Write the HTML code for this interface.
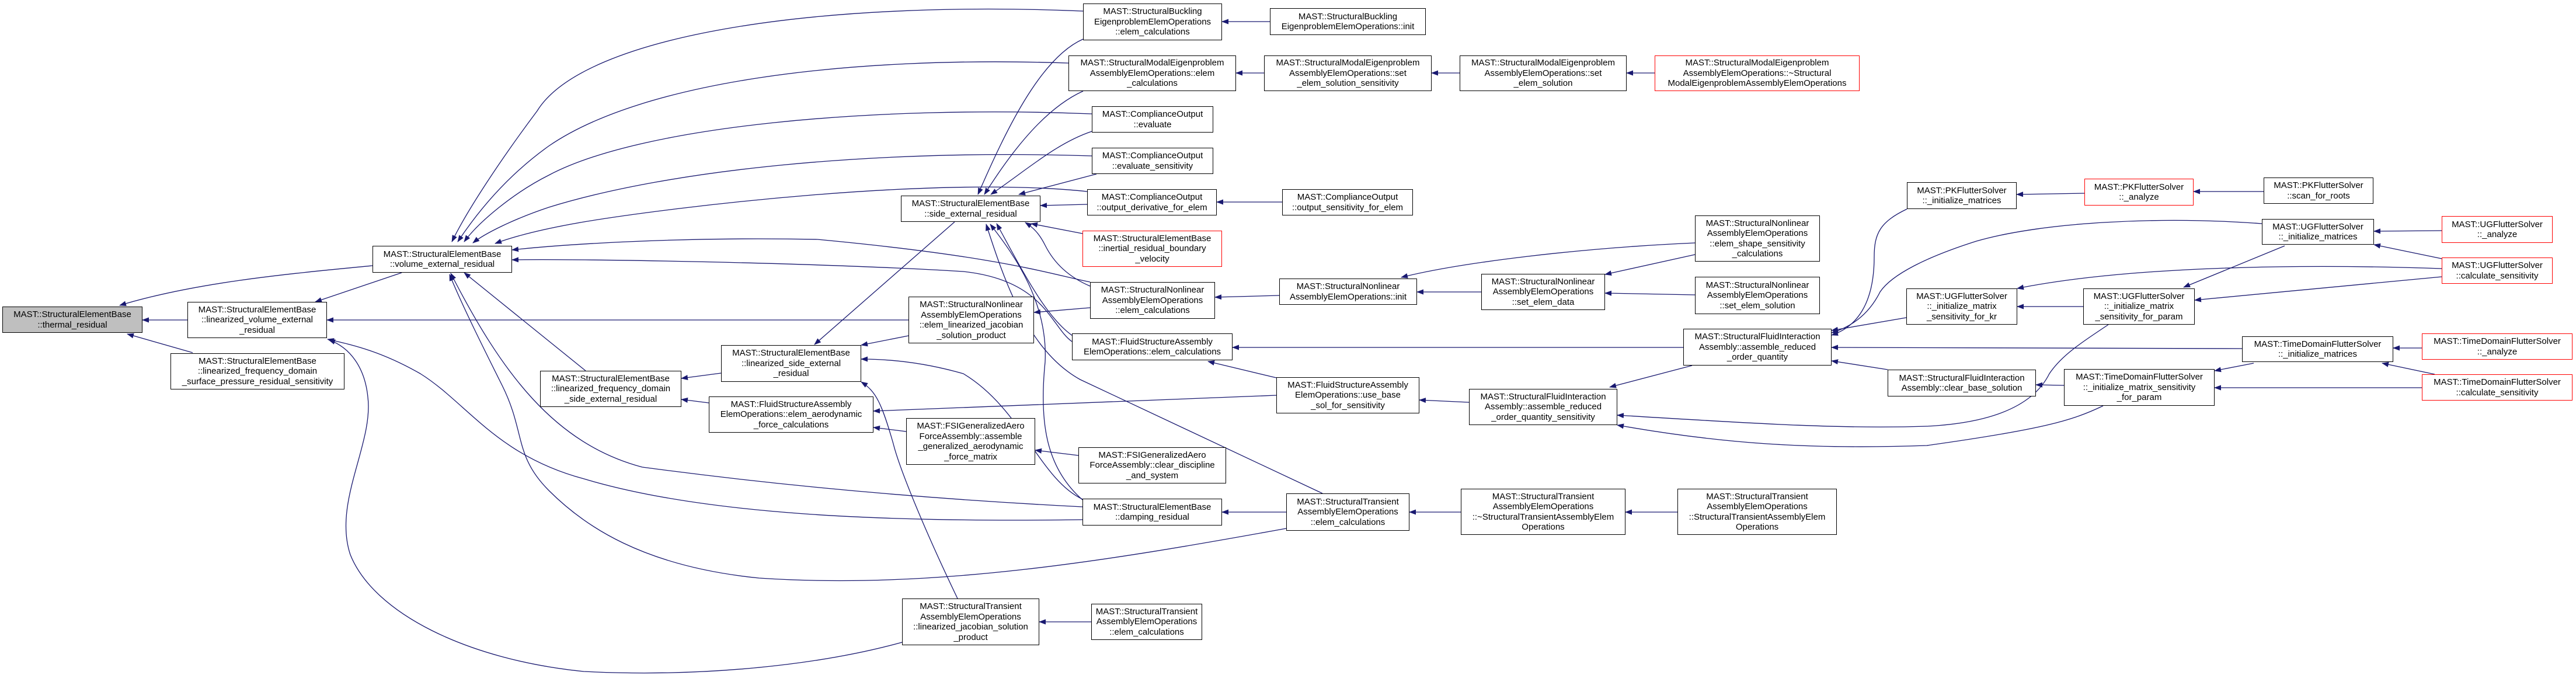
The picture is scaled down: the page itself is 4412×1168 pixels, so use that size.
<!DOCTYPE html>
<html><head><meta charset="utf-8">
<style>
html,body{margin:0;padding:0;background:#fff;}
body{width:4412px;height:1168px;position:relative;overflow:hidden;font-family:"Liberation Sans",Arial,sans-serif;}
.n{position:absolute;box-sizing:border-box;border:1.4px solid #000;background:#fff;display:flex;align-items:center;justify-content:center;text-align:center;font-size:15px;line-height:17.5px;color:#000;white-space:nowrap;}
.r{border-color:#ff0000;}
.g{background:#bfbfbf;}
svg{position:absolute;left:0;top:0;}
</style></head><body>
<svg width="4412" height="1168" viewBox="0 0 4412 1168">
<defs><marker id="a" markerWidth="12" markerHeight="10" refX="11" refY="4.5" orient="auto" markerUnits="userSpaceOnUse"><path d="M0,0 L12,4.5 L0,9 z" fill="#191970"/></marker></defs>
<g fill="none" stroke="#191970" stroke-width="1.3" marker-end="url(#a)">
<path d="M638,455 C480,470 330,485 205,523"/>
<path d="M321,548 L244,548"/>
<path d="M330,604 L218,572"/>
<path d="M688,467 L540,517"/>
<path d="M1855,19 C1400,0 1000,60 920,190 C860,270 800,360 774,414"/>
<path d="M1830,108 C1450,95 1100,140 940,250 C870,300 820,360 784,414"/>
<path d="M1870,195 C1500,180 1100,215 940,300 C880,330 820,380 795,414"/>
<path d="M1870,267 C1500,255 1150,290 940,355 C880,375 830,400 810,416"/>
<path d="M1862,328 C1600,300 1150,355 1000,380 C930,392 880,405 848,417"/>
<path d="M1867,483 C1800,470 1720,440 1400,410 C1150,405 950,420 877,428"/>
<path d="M1836,585 C1800,560 1790,480 1650,465 C1400,450 1000,443 877,445"/>
<path d="M1003,635 L795,467"/>
<path d="M1854,868 C1500,850 1250,820 1100,800 C950,760 860,640 772,468"/>
<path d="M2203,905 C1900,960 1600,1010 1300,990 C1100,970 1000,900 940,840 C880,780 900,740 860,660 C830,600 790,520 770,470"/>
<path d="M1854,890 C1500,895 1200,880 1000,820 C850,780 800,690 720,640 C650,600 600,590 561,581"/>
<path d="M1545,1100 C1400,1140 1200,1160 1000,1150 C800,1130 640,1050 600,950 C570,860 640,760 630,680 C625,630 600,595 563,582"/>
<path d="M1556,548 L560,548"/>
<path d="M1855,67 C1780,100 1720,230 1675,333"/>
<path d="M1855,156 C1780,190 1720,280 1686,333"/>
<path d="M1870,225 C1810,245 1760,290 1697,333"/>
<path d="M1878,298 L1745,333"/>
<path d="M1862,350 L1782,352"/>
<path d="M1854,400 L1766,383"/>
<path d="M1867,490 C1820,470 1800,440 1790,420 C1780,400 1770,390 1756,381"/>
<path d="M1854,585 C1800,560 1760,480 1707,383"/>
<path d="M1854,856 C1790,800 1780,720 1790,620 C1795,520 1740,440 1696,384"/>
<path d="M2265,845 C2150,790 2000,720 1850,650 C1760,600 1720,480 1689,384"/>
<path d="M1635,380 L1395,590"/>
<path d="M1556,575 L1475,591"/>
<path d="M1854,855 C1780,820 1750,700 1650,640 C1580,620 1520,615 1475,615"/>
<path d="M1640,1025 C1580,900 1540,800 1530,760 C1510,690 1500,670 1475,654"/>
<path d="M1235,639 L1167,648"/>
<path d="M1214,690 L1167,684"/>
<path d="M1867,527 L1771,535"/>
<path d="M1552,739 L1496,732"/>
<path d="M2186,677 L1496,704"/>
<path d="M1847,780 L1773,771"/>
<path d="M2175,37 L2093,37"/>
<path d="M2165,125 L2117,125"/>
<path d="M2196,346 L2084,346"/>
<path d="M2191,506 L2081,509"/>
<path d="M2883,595 L2111,595"/>
<path d="M2186,647 L2069,619"/>
<path d="M2203,877 L2093,877"/>
<path d="M1869,1065 L1780,1065"/>
<path d="M2500,125 L2452,125"/>
<path d="M2834,125 L2786,125"/>
<path d="M2903,416 C2700,425 2500,450 2400,475"/>
<path d="M2537,500 L2427,500"/>
<path d="M2903,436 L2749,470"/>
<path d="M2903,505 L2749,502"/>
<path d="M2516,689 L2431,685"/>
<path d="M2898,626 L2757,663"/>
<path d="M3611,556 C3560,590 3530,610 3510,640 C3480,700 3400,725 3300,730 C3150,735 3000,725 2770,711"/>
<path d="M3602,695 C3550,720 3500,735 3300,763 C3100,770 2950,760 2770,728"/>
<path d="M3266,358 C3220,380 3210,400 3210,440 C3210,520 3180,560 3137,574"/>
<path d="M3874,383 C3700,370 3500,380 3385,413 C3300,440 3240,470 3220,500 C3200,540 3170,560 3137,570"/>
<path d="M3265,544 L3137,566"/>
<path d="M3840,597 L3137,595"/>
<path d="M3233,633 L3137,618"/>
<path d="M2502,877 L2414,877"/>
<path d="M2873,877 L2784,877"/>
<path d="M3570,331 L3454,333"/>
<path d="M3877,328 L3757,328"/>
<path d="M4182,395 L4066,396"/>
<path d="M4182,443 L4066,419"/>
<path d="M4182,460 C3950,452 3650,455 3455,494"/>
<path d="M4182,474 L3759,514"/>
<path d="M3568,525 L3455,525"/>
<path d="M3913,421 L3740,492"/>
<path d="M4148,596 L4099,596"/>
<path d="M4170,641 L4080,622"/>
<path d="M3860,622 L3793,635"/>
<path d="M4148,664 L3793,664"/>
<path d="M3535,660 L3487,659"/>
</g></svg>

<div class="n g" style="left:4px;top:525px;width:240px;height:45px">MAST::StructuralElementBase<br>::thermal_residual</div>
<div class="n" style="left:638px;top:421px;width:239px;height:46px">MAST::StructuralElementBase<br>::volume_external_residual</div>
<div class="n" style="left:321px;top:517px;width:239px;height:62px">MAST::StructuralElementBase<br>::linearized_volume_external<br>_residual</div>
<div class="n" style="left:292px;top:605px;width:298px;height:62px">MAST::StructuralElementBase<br>::linearized_frequency_domain<br>_surface_pressure_residual_sensitivity</div>
<div class="n" style="left:925px;top:635px;width:242px;height:62px">MAST::StructuralElementBase<br>::linearized_frequency_domain<br>_side_external_residual</div>
<div class="n" style="left:1855px;top:6px;width:238px;height:63px">MAST::StructuralBuckling<br>EigenproblemElemOperations<br>::elem_calculations</div>
<div class="n" style="left:1830px;top:95px;width:287px;height:61px">MAST::StructuralModalEigenproblem<br>AssemblyElemOperations::elem<br>_calculations</div>
<div class="n" style="left:1870px;top:182px;width:208px;height:45px">MAST::ComplianceOutput<br>::evaluate</div>
<div class="n" style="left:1870px;top:253px;width:208px;height:45px">MAST::ComplianceOutput<br>::evaluate_sensitivity</div>
<div class="n" style="left:1862px;top:324px;width:222px;height:45px">MAST::ComplianceOutput<br>::output_derivative_for_elem</div>
<div class="n" style="left:1543px;top:335px;width:239px;height:45px">MAST::StructuralElementBase<br>::side_external_residual</div>
<div class="n r" style="left:1854px;top:395px;width:239px;height:62px">MAST::StructuralElementBase<br>::inertial_residual_boundary<br>_velocity</div>
<div class="n" style="left:1867px;top:483px;width:214px;height:63px">MAST::StructuralNonlinear<br>AssemblyElemOperations<br>::elem_calculations</div>
<div class="n" style="left:1556px;top:508px;width:215px;height:80px">MAST::StructuralNonlinear<br>AssemblyElemOperations<br>::elem_linearized_jacobian<br>_solution_product</div>
<div class="n" style="left:1836px;top:571px;width:275px;height:46px">MAST::FluidStructureAssembly<br>ElemOperations::elem_calculations</div>
<div class="n" style="left:1235px;top:591px;width:240px;height:63px">MAST::StructuralElementBase<br>::linearized_side_external<br>_residual</div>
<div class="n" style="left:1214px;top:679px;width:282px;height:62px">MAST::FluidStructureAssembly<br>ElemOperations::elem_aerodynamic<br>_force_calculations</div>
<div class="n" style="left:1552px;top:716px;width:221px;height:80px">MAST::FSIGeneralizedAero<br>ForceAssembly::assemble<br>_generalized_aerodynamic<br>_force_matrix</div>
<div class="n" style="left:1847px;top:766px;width:253px;height:62px">MAST::FSIGeneralizedAero<br>ForceAssembly::clear_discipline<br>_and_system</div>
<div class="n" style="left:1854px;top:854px;width:239px;height:46px">MAST::StructuralElementBase<br>::damping_residual</div>
<div class="n" style="left:1545px;top:1025px;width:235px;height:80px">MAST::StructuralTransient<br>AssemblyElemOperations<br>::linearized_jacobian_solution<br>_product</div>
<div class="n" style="left:1869px;top:1034px;width:190px;height:62px">MAST::StructuralTransient<br>AssemblyElemOperations<br>::elem_calculations</div>
<div class="n" style="left:2175px;top:14px;width:267px;height:46px">MAST::StructuralBuckling<br>EigenproblemElemOperations::init</div>
<div class="n" style="left:2165px;top:95px;width:287px;height:61px">MAST::StructuralModalEigenproblem<br>AssemblyElemOperations::set<br>_elem_solution_sensitivity</div>
<div class="n" style="left:2500px;top:95px;width:286px;height:61px">MAST::StructuralModalEigenproblem<br>AssemblyElemOperations::set<br>_elem_solution</div>
<div class="n r" style="left:2834px;top:95px;width:351px;height:61px">MAST::StructuralModalEigenproblem<br>AssemblyElemOperations::~Structural<br>ModalEigenproblemAssemblyElemOperations</div>
<div class="n" style="left:2196px;top:324px;width:224px;height:45px">MAST::ComplianceOutput<br>::output_sensitivity_for_elem</div>
<div class="n" style="left:2191px;top:477px;width:236px;height:45px">MAST::StructuralNonlinear<br>AssemblyElemOperations::init</div>
<div class="n" style="left:2537px;top:469px;width:212px;height:62px">MAST::StructuralNonlinear<br>AssemblyElemOperations<br>::set_elem_data</div>
<div class="n" style="left:2903px;top:369px;width:214px;height:79px">MAST::StructuralNonlinear<br>AssemblyElemOperations<br>::elem_shape_sensitivity<br>_calculations</div>
<div class="n" style="left:2903px;top:474px;width:214px;height:64px">MAST::StructuralNonlinear<br>AssemblyElemOperations<br>::set_elem_solution</div>
<div class="n" style="left:2883px;top:563px;width:254px;height:63px">MAST::StructuralFluidInteraction<br>Assembly::assemble_reduced<br>_order_quantity</div>
<div class="n" style="left:2186px;top:646px;width:245px;height:62px">MAST::FluidStructureAssembly<br>ElemOperations::use_base<br>_sol_for_sensitivity</div>
<div class="n" style="left:2516px;top:666px;width:254px;height:62px">MAST::StructuralFluidInteraction<br>Assembly::assemble_reduced<br>_order_quantity_sensitivity</div>
<div class="n" style="left:2203px;top:845px;width:211px;height:64px">MAST::StructuralTransient<br>AssemblyElemOperations<br>::elem_calculations</div>
<div class="n" style="left:2502px;top:837px;width:282px;height:79px">MAST::StructuralTransient<br>AssemblyElemOperations<br>::~StructuralTransientAssemblyElem<br>Operations</div>
<div class="n" style="left:2873px;top:837px;width:273px;height:79px">MAST::StructuralTransient<br>AssemblyElemOperations<br>::StructuralTransientAssemblyElem<br>Operations</div>
<div class="n" style="left:3266px;top:312px;width:188px;height:46px">MAST::PKFlutterSolver<br>::_initialize_matrices</div>
<div class="n r" style="left:3570px;top:306px;width:187px;height:46px">MAST::PKFlutterSolver<br>::_analyze</div>
<div class="n" style="left:3877px;top:304px;width:188px;height:45px">MAST::PKFlutterSolver<br>::scan_for_roots</div>
<div class="n" style="left:3874px;top:375px;width:192px;height:44px">MAST::UGFlutterSolver<br>::_initialize_matrices</div>
<div class="n r" style="left:4182px;top:370px;width:190px;height:46px">MAST::UGFlutterSolver<br>::_analyze</div>
<div class="n r" style="left:4182px;top:441px;width:190px;height:45px">MAST::UGFlutterSolver<br>::calculate_sensitivity</div>
<div class="n" style="left:3265px;top:494px;width:190px;height:62px">MAST::UGFlutterSolver<br>::_initialize_matrix<br>_sensitivity_for_kr</div>
<div class="n" style="left:3568px;top:494px;width:191px;height:62px">MAST::UGFlutterSolver<br>::_initialize_matrix<br>_sensitivity_for_param</div>
<div class="n" style="left:3840px;top:576px;width:259px;height:44px">MAST::TimeDomainFlutterSolver<br>::_initialize_matrices</div>
<div class="n r" style="left:4148px;top:571px;width:258px;height:45px">MAST::TimeDomainFlutterSolver<br>::_analyze</div>
<div class="n r" style="left:4148px;top:641px;width:258px;height:45px">MAST::TimeDomainFlutterSolver<br>::calculate_sensitivity</div>
<div class="n" style="left:3233px;top:633px;width:254px;height:46px">MAST::StructuralFluidInteraction<br>Assembly::clear_base_solution</div>
<div class="n" style="left:3535px;top:632px;width:258px;height:63px">MAST::TimeDomainFlutterSolver<br>::_initialize_matrix_sensitivity<br>_for_param</div>
</body></html>
